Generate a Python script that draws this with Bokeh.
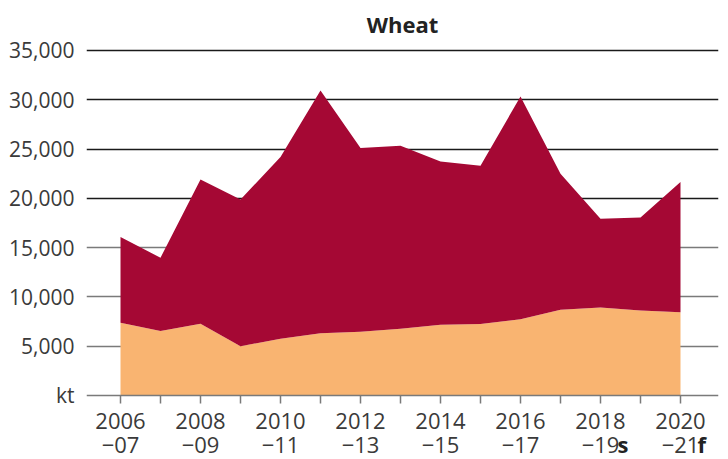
from bokeh.plotting import figure
from bokeh.models import ColumnDataSource, FixedTicker, Grid, Label, Range1d
from bokeh.embed import file_html
from bokeh.resources import INLINE

years = [2006, 2007, 2008, 2009, 2010, 2011, 2012, 2013, 2014, 2015, 2016, 2017, 2018, 2019, 2020]
lower_kt = [7370, 6530, 7270, 5000, 5750, 6320, 6460, 6760, 7170, 7240, 7740, 8690, 8930, 8620, 8450]
upper_kt = [8690, 7440, 14640, 14880, 18430, 24620, 18630, 18570, 16570, 16060, 22590, 13800, 8990, 9440, 13190]
x_tick_labels = {2006: "2006\n\u221207", 2008: "2008\n\u221209", 2010: "2010\n\u221211",
                 2012: "2012\n\u221213", 2014: "2014\n\u221215", 2016: "2016\n\u221217",
                 2018: "2018\n\u221219", 2020: "2020\n\u221221"}
suffixes = {2018: "s", 2020: "f"}
y_ticks = [0, 5000, 10000, 15000, 20000, 25000, 30000, 35000]

FONT = "Open Sans"
TXT = "#3a3a3a"
RED = "#A50834"
ORANGE = "#F9B471"

src = ColumnDataSource(dict(year=years, lower=lower_kt, upper=upper_kt))

# frame extends below zero so the two-line year labels sit inside it
p = figure(frame_width=632, frame_height=414, output_backend="svg", toolbar_location=None,
           x_range=Range1d(2005.15, 2020.95), y_range=Range1d(-6500, 35500),
           title="Wheat")
p.min_border_left = 86
p.min_border_right = 10
p.min_border_top = 45
p.min_border_bottom = 0
p.outline_line_color = None

p.title.text_font = FONT
p.title.text_font_style = "bold"
p.title.text_font_size = "22px"
p.title.text_color = "#222222"
p.title.align = "center"
p.title.vertical_align = "top"
p.title.text_line_height = 0.7

p.varea_stack(["lower", "upper"], x="year", color=[ORANGE, RED], source=src)

# grids
p.xgrid.grid_line_color = None
p.ygrid.grid_line_color = None
p.add_layout(Grid(dimension=1, ticker=FixedTicker(ticks=[20000, 25000, 30000, 35000]),
                  grid_line_color="#1a1a1a", grid_line_width=1.5))
p.add_layout(Grid(dimension=1, ticker=FixedTicker(ticks=[5000, 10000, 15000]),
                  grid_line_color="#7a7a7a", grid_line_width=1.5))

# y axis
ya = p.yaxis[0]
ya.ticker = FixedTicker(ticks=y_ticks)
ya.major_label_overrides = {t: ("kt" if t == 0 else f"{t:,}") for t in y_ticks}
ya.axis_line_color = None
ya.major_tick_line_color = None
ya.minor_tick_line_color = None
ya.major_label_text_font = FONT
ya.major_label_text_font_size = "21px"
ya.major_label_text_color = TXT
ya.major_label_standoff = 6

# x axis, drawn at y = 0 inside the frame
xa = p.xaxis[0]
xa.fixed_location = 0
xa.ticker = FixedTicker(ticks=[y for y in years if y % 2 == 0],
                        minor_ticks=[y for y in years if y % 2 == 1])
xa.major_label_overrides = x_tick_labels
xa.axis_line_color = "#7a7a7a"
xa.axis_line_width = 1.5
xa.major_tick_line_color = "#7a7a7a"
xa.minor_tick_line_color = "#7a7a7a"
xa.major_tick_line_width = 1.5
xa.minor_tick_line_width = 1.5
xa.major_tick_in = 0
xa.major_tick_out = 8
xa.minor_tick_in = 0
xa.minor_tick_out = 8
xa.major_label_text_font = FONT
xa.major_label_text_font_size = "22px"
xa.major_label_text_line_height = 0.8
xa.major_label_text_color = TXT
xa.major_label_standoff = 2

for yr, s in suffixes.items():
    p.add_layout(Label(x=yr, y=-4900, x_units="data", y_units="data", text=s,
                       x_offset=17, text_font=FONT, text_font_style="bold",
                       text_font_size="22px", text_color="#222222",
                       text_baseline="alphabetic"))

open("out.html", "w").write(file_html(p, INLINE))
